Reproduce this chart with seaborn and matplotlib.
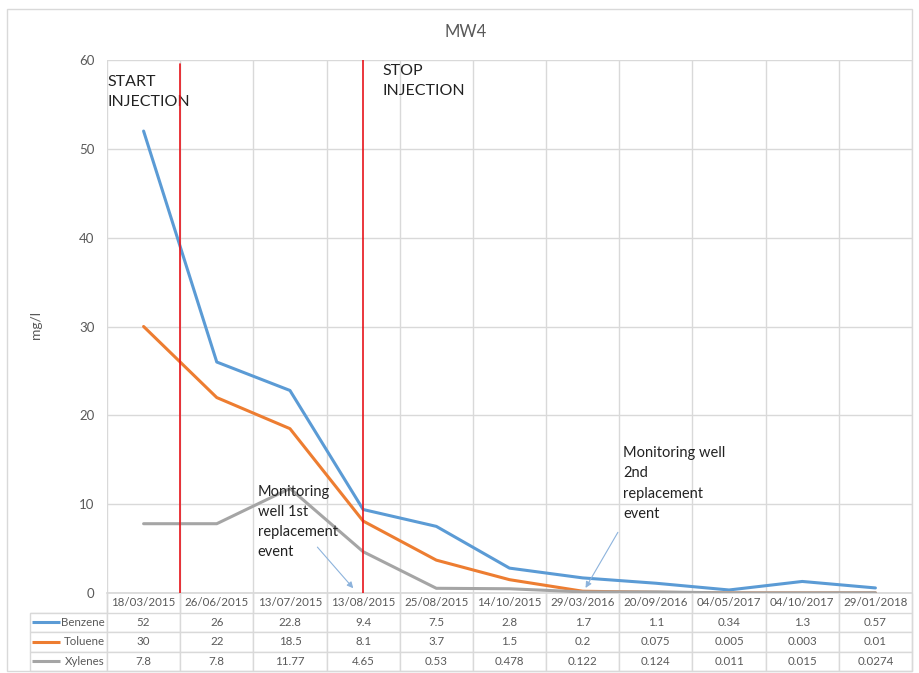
import matplotlib
matplotlib.use("Agg")
import matplotlib.pyplot as plt
import seaborn as sns
import pandas as pd
import numpy as np

# ===========================
# DATA
# ===========================
dates = ['18/03/2015', '26/06/2015', '13/07/2015', '13/08/2015', '25/08/2015',
         '14/10/2015', '29/03/2016', '20/09/2016', '04/05/2017', '04/10/2017',
         '29/01/2018']
benzene = [52, 26, 22.8, 9.4, 7.5, 2.8, 1.7, 1.1, 0.34, 1.3, 0.57]
toluene = [30, 22, 18.5, 8.1, 3.7, 1.5, 0.2, 0.075, 0.005, 0.003, 0.01]
xylenes = [7.8, 7.8, 11.77, 4.65, 0.53, 0.478, 0.122, 0.124, 0.011, 0.015, 0.0274]

# table text exactly as printed in the sheet
benzene_txt = ['52', '26', '22.8', '9.4', '7.5', '2.8', '1.7', '1.1', '0.34', '1.3', '0.57']
toluene_txt = ['30', '22', '18.5', '8.1', '3.7', '1.5', '0.2', '0.075', '0.005', '0.003', '0.01']
xylenes_txt = ['7.8', '7.8', '11.77', '4.65', '0.53', '0.478', '0.122', '0.124', '0.011', '0.015', '0.0274']

series = ['Benzene', 'Toluene', 'Xylenes']
colors = {'Benzene': '#5B9BD5', 'Toluene': '#ED7D31', 'Xylenes': '#A5A5A5'}

start_pos = 0.5   # between first and second sample
stop_pos = 3      # at 13/08/2015

# ===========================
# STYLE
# ===========================
sns.set_theme(style='white')
plt.rcParams['font.family'] = ['Lato', 'DejaVu Sans']
grid_c = '#d9d9d9'
text_c = '#595959'

df = pd.DataFrame({
    'idx': np.tile(np.arange(len(dates)), 3),
    'value': benzene + toluene + xylenes,
    'compound': np.repeat(series, len(dates)),
})

fig = plt.figure(figsize=(9.19, 6.73), dpi=100)
ax = fig.add_axes([107 / 919, 1 - 593 / 673, 805 / 919, 533 / 673])

sns.lineplot(data=df, x='idx', y='value', hue='compound', palette=colors,
             linewidth=2.2, ax=ax, legend=False, zorder=3)

# axes / grid
ax.set_xlim(-0.5, len(dates) - 0.5)
ax.set_ylim(0, 60)
ax.set_xticks(np.arange(-0.5, len(dates), 1))
ax.set_xticklabels([])
ax.set_yticks(range(0, 61, 10))
ax.tick_params(axis='both', length=0, labelsize=9.5, labelcolor=text_c, pad=9)
ax.grid(True, color=grid_c, linewidth=1)
ax.set_xlabel('')
ax.set_ylabel('')
for s in ['top', 'right', 'left']:
    ax.spines[s].set_visible(False)
ax.spines['bottom'].set_color(grid_c)

# injection markers
ax.plot([start_pos, start_pos], [0, 59.6], color='#e8141b', lw=1.2, zorder=4)
ax.plot([stop_pos, stop_pos], [0, 60], color='#e8141b', lw=1.2, zorder=4)
ax.text(-0.49, 58.3, 'START\nINJECTION', fontsize=11.5, color='#222222',
        va='top', ha='left', linespacing=1.55)
ax.text(3.27, 59.5, 'STOP\nINJECTION', fontsize=11.5, color='#222222',
        va='top', ha='left', linespacing=1.55)

# replacement events
arrow_kw = dict(arrowstyle='-|>', color='#8db3dc', lw=0.8, mutation_scale=9)
ax.annotate('', xy=(2.89, 0.3), xytext=(2.35, 5.4), arrowprops=arrow_kw)
ax.text(1.56, 12.2, 'Monitoring\nwell 1st\nreplacement\nevent', fontsize=10.5,
        color='#222222', va='top', ha='left', linespacing=1.55)
ax.annotate('', xy=(6.02, 0.3), xytext=(6.5, 7.1), arrowprops=arrow_kw)
ax.text(6.55, 16.5, 'Monitoring well\n2nd\nreplacement\nevent', fontsize=10.5,
        color='#222222', va='top', ha='left', linespacing=1.55)

# data table underneath the plot (first column holds the series names)
rows = [[''] + dates]
for name, txt in zip(series, [benzene_txt, toluene_txt, xylenes_txt]):
    rows.append([name] + txt)
col_w = [77] + [805 / len(dates)] * len(dates)
tbl = ax.table(cellText=rows, colWidths=[w / 882 for w in col_w],
               cellLoc='center',
               bbox=[-77 / 805, -78 / 533, 882 / 805, 78 / 533])
tbl.auto_set_font_size(False)
tbl.set_fontsize(8.3)
for (r, c), cell in tbl.get_celld().items():
    cell.set_edgecolor(grid_c)
    cell.set_linewidth(1)
    cell.get_text().set_color(text_c)
    if r == 0:
        cell.visible_edges = 'BR' if c == 0 else 'LR'
    if c == 0 and r > 0:
        cell.get_text().set_ha('right')
        cell.PAD = 0.03

# legend keys in the row-label column
for i, name in enumerate(series):
    yy = 19.5 * (1.5 + i) / 533
    ax.plot([-75 / 805, -47 / 805], [-yy, -yy], color=colors[name], lw=2.2,
            transform=ax.transAxes, clip_on=False, solid_capstyle='butt')

# title, y label, chart border
fig.text(466 / 919, 1 - 32 / 673, 'MW4', ha='center', va='center',
         fontsize=12, color=text_c)
fig.text(36 / 919, 1 - 325 / 673, 'mg/l', ha='center', va='center',
         rotation=90, fontsize=10, color=text_c)
fig.patches.append(plt.Rectangle((7 / 919, 1 - 671 / 673), 905 / 919, 662 / 673,
                                 transform=fig.transFigure, fill=False,
                                 edgecolor=grid_c, lw=1))

fig.savefig('out.png', dpi=100)
